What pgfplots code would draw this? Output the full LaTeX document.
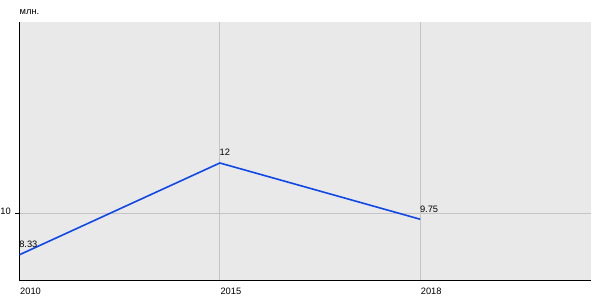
\documentclass[border=0pt]{standalone}
\usepackage{pgfplots}
\pgfplotsset{compat=1.18}
\usepackage{fontspec}
\setmainfont{Liberation Sans}
\definecolor{bgc}{RGB}{233,233,233}
\definecolor{gridc}{RGB}{196,196,196}
\definecolor{linec}{RGB}{16,72,230}
\begin{document}
\begin{tikzpicture}[x=1pt,y=1pt]
\useasboundingbox (0,0) rectangle (600,300);
\begin{axis}[
  at={(19.5pt,20pt)}, anchor=south west,
  scale only axis, width=571pt, height=258pt,
  xmin=0, xmax=2.85, ymin=7.32, ymax=17.64,
  axis background/.style={fill=bgc},
  axis x line=bottom, axis y line=left,
  axis line style={-, black, line width=1pt},
  xtick={0,1,2}, xticklabels={2010,2015,2018},
  ytick={10}, yticklabels={10},
  grid=major, major grid style={gridc, line width=0.8pt},
  xtick style={draw=none},
  ytick style={black, line width=0.8pt},
  tick align=outside, major tick length=4pt,
  x tick label style={anchor=north west, inner sep=0pt, yshift=-4pt, xshift=0.5pt},
  y tick label style={anchor=east, inner sep=0pt, xshift=-4.5pt, yshift=2pt},
  tick label style={font=\fontsize{9.3}{10}\selectfont},
  /pgf/number format/assume math mode=true,
  clip=false,
]
\addplot[linec, line width=1.6pt, nodes near coords,
  point meta=explicit symbolic,
  every node near coord/.append style={anchor=base west, inner sep=0pt, yshift=7pt, xshift=-1pt, black, font=\fontsize{9.3}{10}\selectfont}]
  coordinates {(0,8.33) [8.33] (1,12) [12] (2,9.75) [9.75]};
\node[anchor=base west, inner sep=0pt, font=\fontsize{9.3}{10}\selectfont] at (rel axis cs:0,1) [yshift=7pt] {млн.};
\end{axis}
\end{tikzpicture}
\end{document}
